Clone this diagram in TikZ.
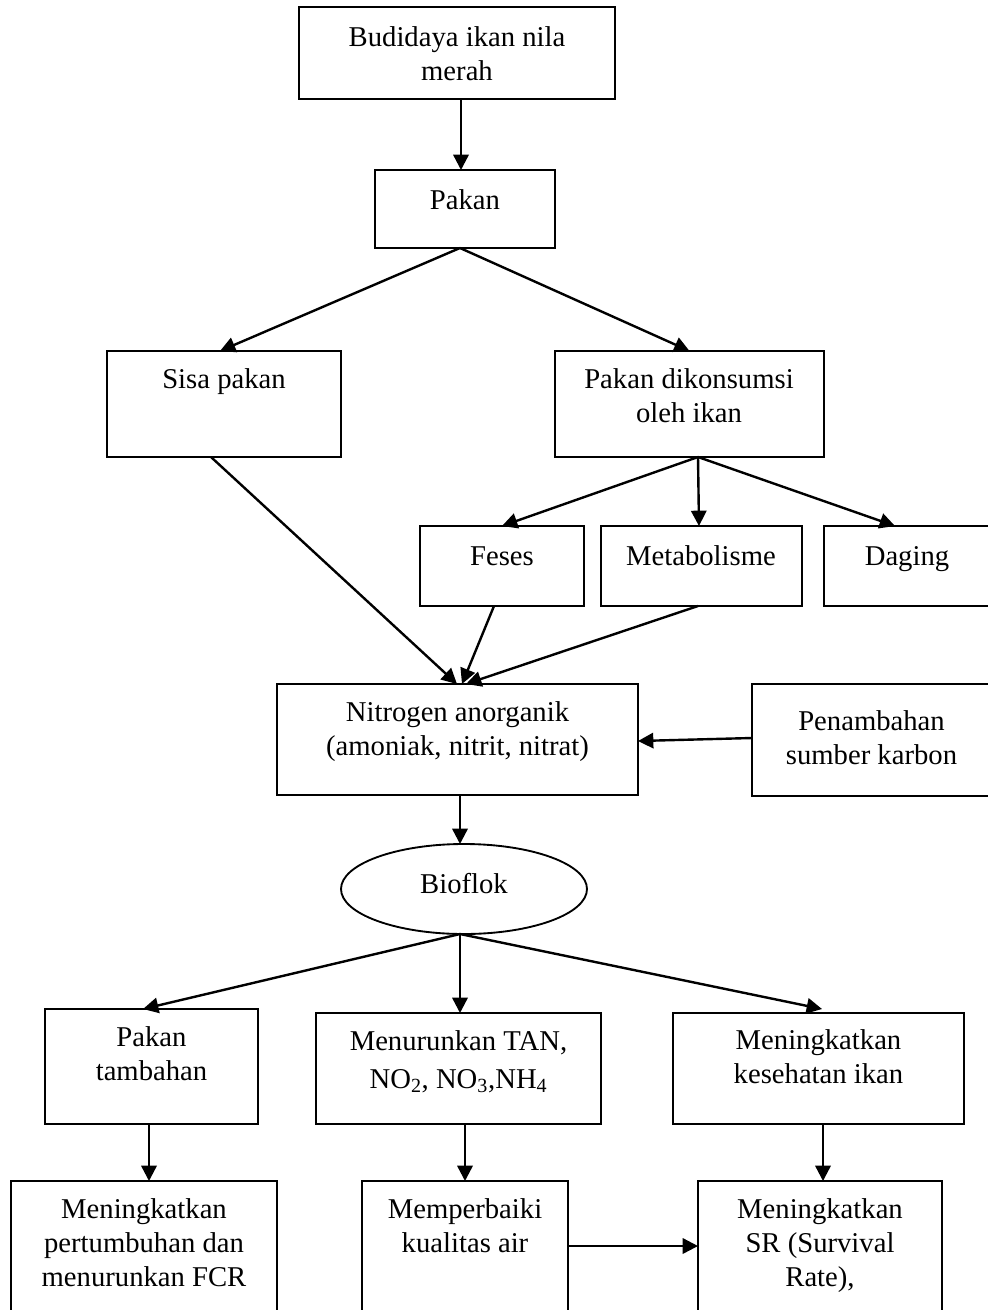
\documentclass[tikz,border=0pt]{standalone}
\usepackage{fontspec}
\setmainfont{Liberation Serif}
\usetikzlibrary{arrows.meta,calc,fit,shapes.geometric}
\newcommand\boxtext[4]{\node[txt] (#1) at (#2,{#3-23.8}) {\strut #4};}
\begin{document}
\begin{tikzpicture}[x=0.75pt,y=-0.75pt,
  box/.style={draw, line width=1.4pt, inner sep=0pt, outer sep=0pt, rectangle},
  ell/.style={draw, line width=1.4pt, inner sep=0pt, outer sep=0pt, ellipse},
  txt/.style={font=\fontsize{21.5}{25.5}\selectfont, align=center, inner sep=0pt, anchor=north},
  arr/.style={line width=1.8pt, -{Triangle[length=11.5pt,width=11.5pt]}}]
\useasboundingbox (0,0) rectangle (988,1310);
\clip (0,0) rectangle (988,1310);

% boxes
\node[box, fit={(299,7) (615,99)}] (b1) {};
\node[box, fit={(375,170) (555,248)}] (pakan) {};
\node[box, fit={(107,351) (341,457)}] (sisa) {};
\node[box, fit={(555,351) (824,457)}] (dik) {};
\node[box, fit={(420,526) (584,606)}] (feses) {};
\node[box, fit={(601,526) (802,606)}] (meta) {};
\node[box, fit={(824,526) (992,606)}] (daging) {};
\node[box, fit={(277,684) (638,795)}] (nitro) {};
\node[box, fit={(752,684) (991,796)}] (penam) {};
\node[ell, minimum width=184.5pt, minimum height=67.5pt] (bio) at (464,889) {};
\node[box, fit={(45,1009) (258,1124)}] (tamb) {};
\node[box, fit={(316,1013) (601,1124)}] (tan) {};
\node[box, fit={(673,1013) (964,1124)}] (kes) {};
\node[box, fit={(11,1181) (277,1330)}] (tumbuh) {};
\node[box, fit={(362,1181) (568,1330)}] (perbaiki) {};
\node[box, fit={(698,1181) (942,1330)}] (sr) {};

% texts
\boxtext{b1t}{457}{46}{Budidaya ikan nila\\merah}
\boxtext{pakant}{465}{209}{Pakan}
\boxtext{sisat}{224}{388}{Sisa pakan}
\boxtext{dikt}{689}{388}{Pakan dikonsumsi\\oleh ikan}
\boxtext{fesest}{502}{565}{Feses}
\boxtext{metat}{701}{565}{Metabolisme}
\boxtext{dagingt}{907}{565}{Daging}
\boxtext{nitrot}{457.5}{721}{Nitrogen anorganik\\(amoniak, nitrit, nitrat)}
\boxtext{penamt}{871.5}{730}{Penambahan\\sumber karbon}
\boxtext{biot}{464}{893}{Bioflok}
\boxtext{tambt}{151.5}{1046}{Pakan\\tambahan}
\boxtext{tant}{458.5}{1050}{Menurunkan TAN,\\[2.8pt]NO\textsubscript{2}, NO\textsubscript{3},NH\textsubscript{4}}
\boxtext{kest}{818.5}{1049}{Meningkatkan\\kesehatan ikan}
\boxtext{tumbuht}{144}{1218}{Meningkatkan\\pertumbuhan dan\\menurunkan FCR}
\boxtext{perbaikit}{465}{1218}{Memperbaiki\\kualitas air}
\boxtext{srt}{820}{1218}{Meningkatkan\\SR (Survival\\Rate),}

% connectors
\draw[arr] ($(b1.south)+(4,0)$) -- ($(pakan.north)+(-4,0)$);
\draw[arr] ($(pakan.south)+(-5,0)$) -- ($(sisa.north)+(-4,0)$);
\draw[arr] ($(pakan.south)+(-5,0)$) -- (dik.north);
\draw[arr] ($(dik.south)+(8.5,0)$) -- (feses.north);
\draw[arr] ($(dik.south)+(8.5,0)$) -- ($(meta.north)+(-2.5,0)$);
\draw[arr] ($(dik.south)+(8.5,0)$) -- ($(daging.north)+(-13,0)$);
\draw[arr] ($(sisa.south)+(-13,0)$) -- ($(nitro.north)+(-0.5,0)$);
\draw[arr] ($(feses.south)+(-8,0)$) -- ($(nitro.north)+(4.5,0)$);
\draw[arr] ($(meta.south)+(-3.5,0)$) -- ($(nitro.north)+(8.5,0)$);
\draw[arr] ($(penam.west)+(0,-2)$) -- ($(nitro.east)+(0,1.5)$);
\draw[arr] ($(nitro.south)+(2.5,0)$) -- ($(bio.north)+(-4,0)$);
\draw[arr] ($(bio.south)+(-4,0)$) -- ($(tamb.north)+(-8.5,0)$);
\draw[arr] ($(bio.south)+(-4,0)$) -- ($(tan.north)+(1.5,0)$);
\draw[arr] ($(bio.south)+(-4,0)$) -- ($(kes.north)+(3.5,-4)$);
\draw[arr] ($(tamb.south)+(-2.5,0)$) -- ($(tumbuh.north)+(5,0)$);
\draw[arr] ($(tan.south)+(6.5,0)$) -- (perbaiki.north);
\draw[arr] ($(kes.south)+(4.5,0)$) -- ($(sr.north)+(3,0)$);
\draw[arr] ($(perbaiki.east)+(0,-9.5)$) -- ($(sr.west)+(0,-9.5)$);
\end{tikzpicture}
\end{document}
